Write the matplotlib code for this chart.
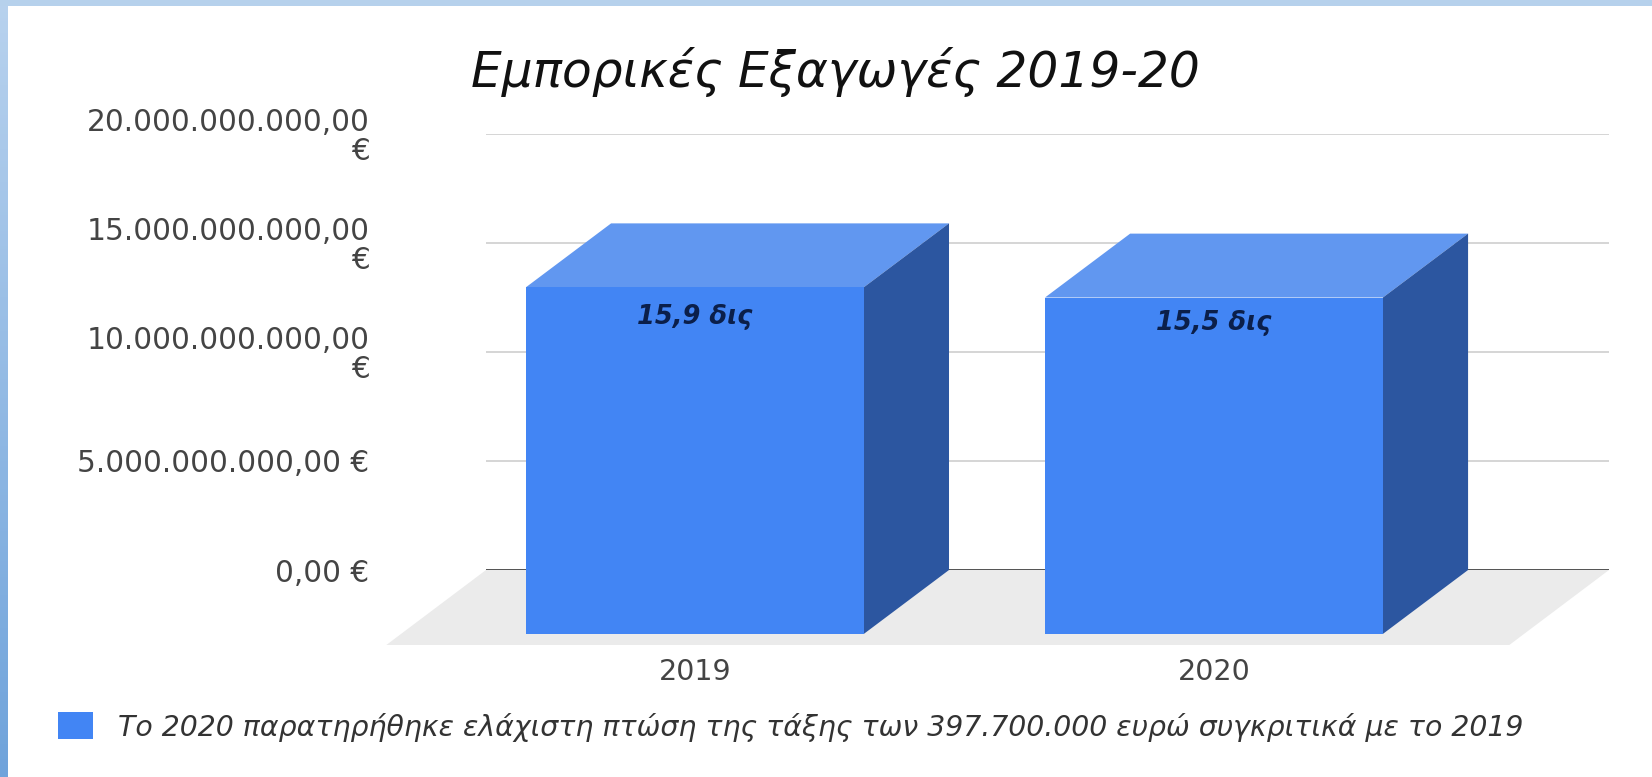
import matplotlib
matplotlib.use('Agg')
import matplotlib.pyplot as plt
from matplotlib.patches import Patch
from matplotlib.colors import LinearSegmentedColormap
import numpy as np

# datos
years = ['2019', '2020']
exports = [15.9e9, 15.43e9]
bar_labels = ['15,9 δις', '15,5 δις']
ytick_vals = [0, 5e9, 10e9, 15e9, 20e9]
ytick_labels = ['0,00 €', '5.000.000.000,00 €', '10.000.000.000,00\n€',
                '15.000.000.000,00\n€', '20.000.000.000,00\n€']
title = 'Εμπορικές Εξαγωγές 2019-20'
legend_text = 'Το 2020 παρατηρήθηκε ελάχιστη πτώση της τάξης των 397.700.000 ευρώ συγκριτικά με το 2019'

W, H = 1652, 777
FRONT = '#4285F4'
TOP = '#6197F0'
SIDE = '#2C56A0'

plt.rcParams['font.family'] = 'DejaVu Sans'

fig = plt.figure(figsize=(W/100, H/100), dpi=100, facecolor='white')

# marco azul de la diapositiva
bg = fig.add_axes([0, 0, 1, 1], zorder=0)
bg.axis('off')
cmap = LinearSegmentedColormap.from_list('marco', ['#B8D2EE', '#6FA3DB'])
grad = np.linspace(0, 1, 256).reshape(-1, 1)
bg.imshow(grad, cmap=cmap, aspect='auto', extent=[0, 8/W, 0, 1], transform=bg.transAxes)
bg.axhspan(1-6/H, 1, color='#B6D1EC', lw=0)
bg.set_xlim(0, 1)
bg.set_ylim(0, 1)

# area del grafico: linea 0 en y=570 px, linea 20 mil millones en y=134 px
ax = fig.add_axes([486/W, 1-570/H, (1609-486)/W, (570-134)/H], zorder=1)
ax.patch.set_alpha(0)
ax.set_xlim(-0.5665, 1.597)
ax.set_ylim(0, 20e9)
for s in ax.spines.values():
    s.set_visible(False)

# profundidad del efecto 3d
dx = 0.164
dy = 2.93e9
w = 0.651
floor_dy = 3.44e9
floor_dx = 0.192
label_off = [-21.2, -18.2]

ax.hlines(ytick_vals[1:], -0.5665, 1.597, color='#D2D2D2', lw=1.3, zorder=1)
ax.fill([-0.5665, 1.597, 1.597-floor_dx, -0.5665-floor_dx],
        [0, 0, -floor_dy, -floor_dy], color='#EBEBEB', lw=0, zorder=1, clip_on=False)
ax.hlines(0, -0.5665, 1.597, color='#444444', lw=1.3, zorder=2)

for i, v in enumerate(exports):
    l = i - w/2
    r = i + w/2
    ax.fill([l, r, r-dx, l-dx], [v, v, v-dy, v-dy], color=TOP, lw=0, zorder=3, clip_on=False)
    ax.fill([r, r, r-dx, r-dx], [v, 0, -dy, v-dy], color=SIDE, lw=0, zorder=3, clip_on=False)
    ax.bar(i-dx, v, width=w, bottom=-dy, color=FRONT, lw=0, zorder=4, clip_on=False)
    ax.annotate(bar_labels[i], (i-dx, v-dy), xytext=(0, label_off[i]), textcoords='offset points',
                ha='center', va='center', fontsize=18.5, style='italic', weight='bold',
                color='#0B1F4A', zorder=5)

ax.set_yticks(ytick_vals)
ax.set_yticklabels(ytick_labels, fontsize=21.3, color='#444444', ma='right', linespacing=1.0)
ax.tick_params(axis='y', length=0, pad=84)
ax.set_xticks([i-dx for i in range(len(years))])
ax.set_xticklabels(years, fontsize=20.5, color='#444444')
ax.tick_params(axis='x', length=0, pad=63)

fig.text(835/W, 1-72/H, title, ha='center', va='center', fontsize=35, style='italic', color='#111111')

handle = Patch(facecolor=FRONT, edgecolor='none')
fig.legend(handles=[handle], labels=[legend_text], loc='center left',
           bbox_to_anchor=(58/W, 1-727/H), frameon=False,
           prop={'size': 20.4, 'style': 'italic'}, labelcolor='#333333',
           handlelength=1.22, handleheight=1.08, handletextpad=0.88, borderpad=0, borderaxespad=0)

fig.savefig('out.png', dpi=100)
